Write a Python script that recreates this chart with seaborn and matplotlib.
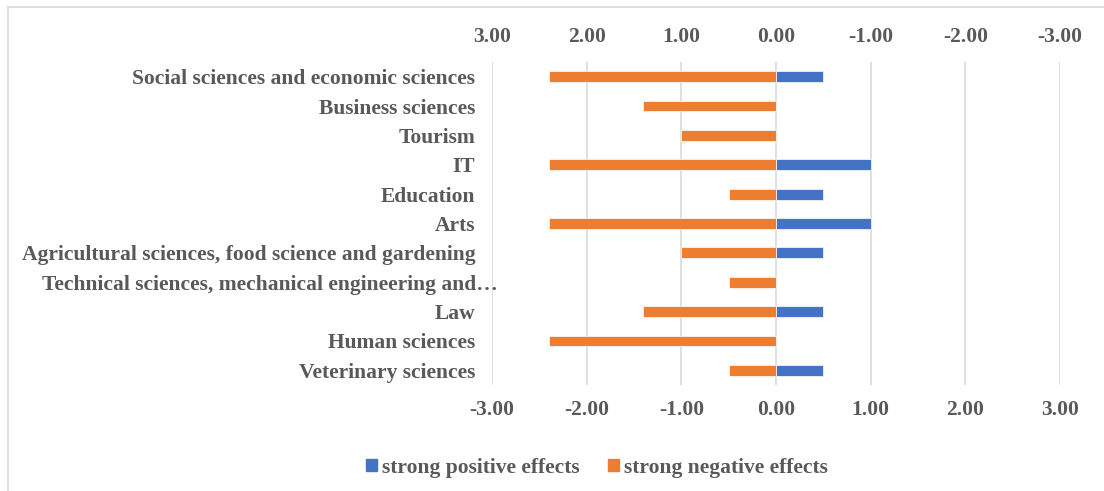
import pandas as pd
import matplotlib.pyplot as plt
import matplotlib.transforms as mtransforms
import seaborn as sns
from matplotlib.patches import Patch
from matplotlib.lines import Line2D

# data
fields = ["Social sciences and economic sciences", "Business sciences", "Tourism", "IT",
          "Education", "Arts", "Agricultural sciences, food science and gardening",
          "Technical sciences, mechanical engineering and\u2026", "Law", "Human sciences",
          "Veterinary sciences"]
positive = [0.5, 0, 0, 1.0, 0.5, 1.0, 0.5, 0, 0.5, 0, 0.5]
negative = [2.4, 1.4, 1.0, 2.4, 0.5, 2.4, 1.0, 0.5, 1.4, 2.4, 0.5]
ticks = [-3, -2, -1, 0, 1, 2, 3]

blue = "#4472C4"
orange = "#ED7D31"
txt = "#595959"
fs = 15.5

df = pd.DataFrame({"field": fields, "positive": positive, "negative": negative})

sns.set_style("white")
plt.rcParams['font.family'] = ['Liberation Serif', 'DejaVu Serif']
plt.rcParams['font.weight'] = 'bold'

fig = plt.figure(figsize=(11.04, 4.91), dpi=100)
ax = fig.add_axes([492 / 1104, 1 - 385 / 491, 568 / 1104, 323 / 491])

sns.barplot(data=df, x="positive", y="field", order=fields, color=blue,
            width=0.37, ax=ax, saturation=1, edgecolor="white", linewidth=0.5)
ax.set_xlim(-3, 3)
ax.set_xticks(ticks)
ax.set_xticklabels([f"{t:.2f}" for t in ticks])

# secondary (top) axis, reversed, like the original
ax2 = ax.twiny()
sns.barplot(data=df, x="negative", y="field", order=fields, color=orange,
            width=0.37, ax=ax2, saturation=1, edgecolor="white", linewidth=0.5)
ax2.set_xlim(3, -3)
ax2.set_xticks(ticks)
ax2.set_xticklabels([f"{t:.2f}" for t in ticks])
ax.set_ylim(10.5, -0.5)

for a in (ax, ax2):
    for s in a.spines.values():
        s.set_visible(False)
    a.set_xlabel("")
    a.set_ylabel("")
    a.tick_params(axis="x", length=0, labelsize=fs, labelcolor=txt, pad=11)
    a.tick_params(axis="y", length=0, labelsize=fs, labelcolor=txt, pad=12)
ax.set_yticks(range(len(fields)))
ax.set_yticklabels(fields, fontweight="bold")
ax.xaxis.grid(True, color="#D9D9D9", linewidth=1.2)
ax.set_axisbelow(True)
for lab in ax.get_xticklabels() + ax2.get_xticklabels():
    lab.set_fontweight("bold")

# the truncated label runs past the others, as in the original
long_lab = ax.get_yticklabels()[7]
long_lab.set_transform(long_lab.get_transform()
                       + mtransforms.ScaledTranslation(22 / 100, 0, fig.dpi_scale_trans))

handles = [Patch(color=blue, label="strong positive effects"),
           Patch(color=orange, label="strong negative effects")]
fig.legend(handles=handles, loc="center", bbox_to_anchor=(597 / 1104, 1 - 468 / 491),
           ncol=2, frameon=False, labelcolor=txt, handlelength=0.5,
           handleheight=0.5, handletextpad=0.25, columnspacing=1.3,
           prop={"weight": "bold", "size": fs})

# chart frame (left and top edges visible)
fig.add_artist(Line2D([8 / 1104, 8 / 1104], [0, 1 - 7 / 491], transform=fig.transFigure,
                      color="#D9D9D9", linewidth=1.2))
fig.add_artist(Line2D([8 / 1104, 1], [1 - 7 / 491, 1 - 7 / 491], transform=fig.transFigure,
                      color="#D9D9D9", linewidth=1.2))

fig.savefig("out.png", dpi=100)
